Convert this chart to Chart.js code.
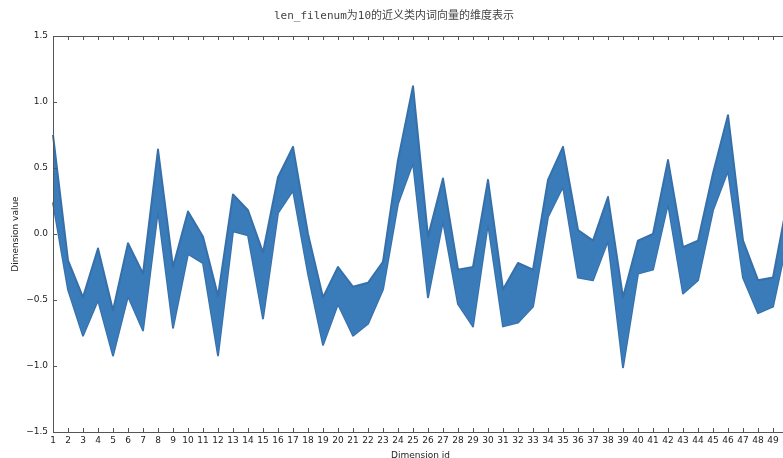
<!DOCTYPE html>
<html>
<head>
<meta charset="utf-8">
<script src="https://cdn.jsdelivr.net/npm/chart.js@4/dist/chart.umd.min.js"></script>
<style>
  html, body { margin: 0; padding: 0; background: #fff; overflow: hidden; }
  #wrap { width: 841px; height: 458px; }
</style>
</head>
<body>
<div id="wrap"><canvas id="c" width="841" height="458"></canvas></div>
<script>
// Dimension ids along the x axis
const dimensionIds = [1, 2, 3, 4, 5, 6, 7, 8, 9, 10, 11, 12, 13, 14, 15, 16, 17, 18, 19, 20,
  21, 22, 23, 24, 25, 26, 27, 28, 29, 30, 31, 32, 33, 34, 35, 36, 37, 38, 39, 40,
  41, 42, 43, 44, 45, 46, 47, 48, 49, 50];

// Upper edge of the word vectors in the class, per dimension
const upperValues = [0.75, -0.20, -0.48, -0.11, -0.58, -0.07, -0.30, 0.64, -0.25, 0.17,
  -0.02, -0.47, 0.30, 0.18, -0.14, 0.43, 0.66, 0.00, -0.48, -0.25,
  -0.40, -0.37, -0.21, 0.56, 1.12, -0.02, 0.42, -0.27, -0.25, 0.41,
  -0.42, -0.22, -0.27, 0.41, 0.66, 0.03, -0.05, 0.28, -0.48, -0.05,
  0.00, 0.56, -0.10, -0.05, 0.46, 0.90, -0.05, -0.35, -0.33, 0.27];

// Lower edge of the word vectors in the class, per dimension
const lowerValues = [0.24, -0.42, -0.77, -0.50, -0.92, -0.47, -0.73, 0.18, -0.71, -0.15,
  -0.22, -0.92, 0.02, -0.01, -0.64, 0.16, 0.33, -0.30, -0.84, -0.53,
  -0.77, -0.68, -0.42, 0.23, 0.54, -0.48, 0.10, -0.53, -0.70, 0.08,
  -0.70, -0.67, -0.55, 0.13, 0.36, -0.33, -0.35, -0.05, -1.01, -0.30,
  -0.27, 0.23, -0.45, -0.35, 0.18, 0.48, -0.33, -0.60, -0.55, -0.02];

const yTickValues = [-1.5, -1.0, -0.5, 0.0, 0.5, 1.0, 1.5];

const lineBlue = '#3a7bb9';
const edgeBlue = '#3670aa';

// Box frame with inward tick marks on all four sides
const frameTicks = {
  id: 'frameTicks',
  afterDatasetsDraw(chart) {
    const { ctx, chartArea: a, scales: { x, y } } = chart;
    ctx.save();
    ctx.strokeStyle = '#555';
    ctx.lineWidth = 1;
    ctx.strokeRect(Math.round(a.left) + 0.5, Math.round(a.top) + 0.5,
      Math.round(a.right - a.left), Math.round(a.bottom - a.top));
    const len = 4;
    ctx.beginPath();
    x.ticks.forEach((t, i) => {
      const px = Math.round(x.getPixelForTick(i)) + 0.5;
      ctx.moveTo(px, a.bottom); ctx.lineTo(px, a.bottom - len);
      ctx.moveTo(px, a.top); ctx.lineTo(px, a.top + len);
    });
    y.ticks.forEach((t, i) => {
      const py = Math.round(y.getPixelForTick(i)) + 0.5;
      ctx.moveTo(a.left, py); ctx.lineTo(a.left + len, py);
      ctx.moveTo(a.right, py); ctx.lineTo(a.right - len, py);
    });
    ctx.stroke();
    ctx.restore();
  }
};

const tickFont = { family: "'DejaVu Sans', sans-serif", size: 9 };

new Chart(document.getElementById('c'), {
  type: 'line',
  data: {
    labels: dimensionIds,
    datasets: [
      {
        label: 'upper',
        data: upperValues,
        borderColor: edgeBlue,
        backgroundColor: lineBlue,
        borderWidth: 2,
        borderJoinStyle: 'round',
        pointRadius: 0,
        tension: 0,
        fill: '+1'
      },
      {
        label: 'lower',
        data: lowerValues,
        borderColor: edgeBlue,
        backgroundColor: lineBlue,
        borderWidth: 2,
        borderJoinStyle: 'round',
        pointRadius: 0,
        tension: 0,
        fill: false
      }
    ]
  },
  options: {
    responsive: false,
    devicePixelRatio: 1,
    animation: false,
    layout: { padding: { left: 0, right: 53, top: 0, bottom: 0 } },
    plugins: {
      legend: { display: false },
      tooltip: { enabled: false },
      title: {
        display: true,
        text: 'len_filenum为10的近义类内词向量的维度表示',
        color: '#444',
        font: { family: "'DejaVu Sans Mono', 'Noto Sans CJK SC', monospace", size: 11, weight: 'normal' },
        padding: { top: 10, bottom: 12.8 }
      }
    },
    scales: {
      x: {
        type: 'category',
        offset: false,
        grid: { display: false, drawTicks: false },
        border: { display: false },
        ticks: { autoSkip: false, maxRotation: 0, minRotation: 0, padding: 3, color: '#222', font: tickFont },
        title: { display: true, text: 'Dimension id', color: '#222', font: tickFont, padding: { top: 0, bottom: -3 } },
        afterFit(scale) { scale.height = 26; }
      },
      y: {
        min: -1.5,
        max: 1.5,
        afterBuildTicks(scale) { scale.ticks = yTickValues.map(v => ({ value: v })); },
        grid: { display: false, drawTicks: false },
        border: { display: false },
        ticks: {
          padding: 5,
          color: '#222',
          font: tickFont,
          callback: v => (v < 0 ? '\u2212' : '') + Math.abs(v).toFixed(1)
        },
        title: { display: true, text: 'Dimension value', color: '#222', font: tickFont, padding: { top: 10, bottom: 0 } },
        afterFit(scale) { scale.width = 53; }
      }
    }
  },
  plugins: [frameTicks]
});
</script>
</body>
</html>
